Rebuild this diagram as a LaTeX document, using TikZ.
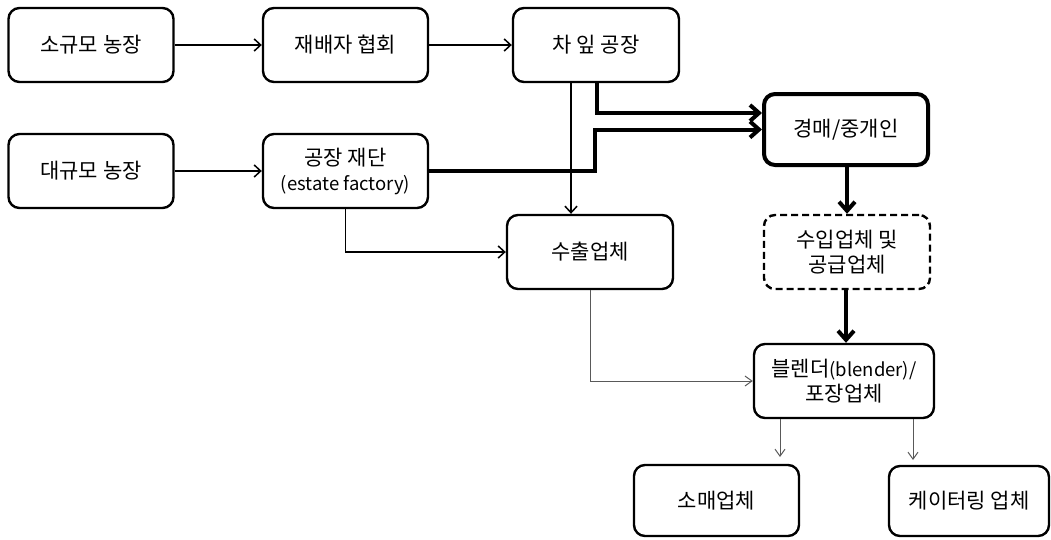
\documentclass[tikz,border=0pt]{standalone}
\usepackage{fontspec}
\setmainfont{Noto Sans CJK KR}
\usetikzlibrary{arrows.meta}
\newcommand\latpart[1]{{\fontsize{18.5}{25}\selectfont #1}}
\begin{document}
\begin{tikzpicture}[x=1pt,y=-1pt,
  box/.style={draw,line width=2.4pt,rounded corners=11pt,align=center,inner sep=0pt,
    font=\fontsize{21}{25}\selectfont},
  sz/.style 2 args={minimum width=#1pt,minimum height=#2pt},
  boldbox/.style={box,line width=4pt},
  dashbox/.style={box,dash pattern=on 7pt off 4pt},
  arr/.style={line width=1.5pt,-{Straight Barb[length=6.5pt,width=12pt,line width=1.5pt]}},
  grayarr/.style={line width=1pt,draw=black!65,-{Straight Barb[length=7pt,width=10pt,line width=1pt]}},
  thickarr/.style={line width=4pt,-{Straight Barb[length=9pt,width=16pt,line width=4pt]}}]
\useasboundingbox (0,0) rectangle (1051,539);
\node[box,sz={165}{74}] (sfarm) at (91,45) {소규모 농장};
\node[box,sz={165}{74}] (assoc) at (345.5,45) {재배자 협회};
\node[box,sz={166}{74}] (factory) at (596,45) {차 잎 공장};
\node[box,sz={165}{74}] (lfarm) at (91,171) {대규모 농장};
\node[box,sz={165}{74}] (estate) at (345.5,171) {공장 재단\\\latpart{(estate factory)}};
\node[boldbox,sz={164}{71}] (auction) at (846,129.5) {경매/중개인};
\node[dashbox,sz={166}{74}] (importer) at (847,252) {수입업체 및\\공급업체};
\node[box,sz={166}{74}] (exporter) at (590,252) {수출업체};
\node[box,sz={180}{74}] (blender) at (844,381) {블렌더\latpart{(blender)/}\\포장업체};
\node[box,sz={165}{71}] (retail) at (716.5,500.5) {소매업체};
\node[box,sz={160}{70}] (catering) at (969,501) {케이터링 업체};
\coordinate (r1) at (780,457);
\coordinate (r2) at (913,460);
\draw[arr] (sfarm) -- (assoc);
\draw[arr] (assoc) -- (factory);
\draw[arr] (lfarm) -- (estate);
\draw[arr] ([xshift=-25pt]factory.south) -- ([xshift=-25pt]factory.south |- exporter.north);
\draw[arr] (estate.south) |- (exporter.west);
\draw[thickarr] ([xshift=1pt]factory.south) |- ([yshift=16.5pt]auction.west);
\draw[thickarr] (estate.east) -- ([xshift=-1pt]estate.east -| factory.south) |- (auction.west);
\draw[thickarr] (auction.south) -- (importer.south |- auction.south) -- (importer.north);
\draw[thickarr] ([xshift=-1pt]importer.south) -- ([xshift=-1pt]importer.south |- blender.north);
\draw[grayarr] (exporter.south) |- (blender.west);
\draw[grayarr] (blender.south -| r1) -- (r1);
\draw[grayarr] (blender.south -| r2) -- (r2);
\end{tikzpicture}
\end{document}
